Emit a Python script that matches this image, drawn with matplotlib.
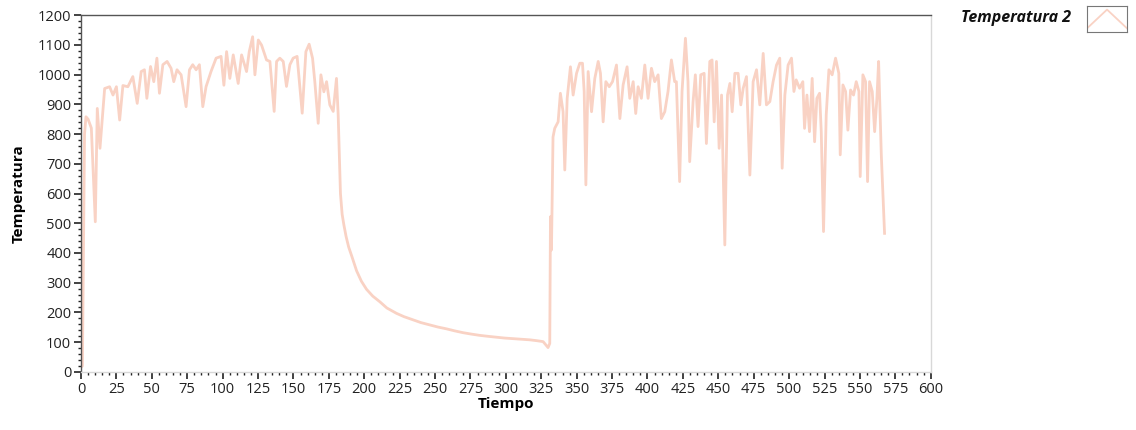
import matplotlib.pyplot as plt
from matplotlib.ticker import MultipleLocator

# Datos (Tiempo, Temperatura 2)
tiempo = [
    0, 1, 2.5, 3.5, 5, 7.3, 10.1, 11.5, 13.4, 16.7, 20.2, 22.6, 25, 27.3, 29.6, 33.1,
    36.6, 39.7, 42.5, 44.8, 46.5, 49.1, 51.4, 53.6, 55.4, 57.8, 60.8, 63.6, 65.5, 67.8,
    70.7, 74.2, 76.6, 78.9, 81.3, 83.6, 86, 88.3, 91.8, 95.4, 98.9, 100.9, 102.8, 105.1,
    107.5, 111, 113.4, 116.9, 118.8, 121.2, 122.8, 125.2, 127.5, 131, 133.4, 136.4, 138.1,
    140.4, 142.8, 145.1, 147.5, 149.8, 152.6, 156.2, 158.8, 161.1, 163.5, 165.1, 167.5,
    169.4, 171.5, 173.4, 175.7, 178.1, 180.4, 181.6, 183.2, 184.4, 185.6, 187.2, 189,
    191.5, 194.6, 198, 201.6, 206, 211, 216, 222.8, 228, 234.5, 240, 246.3, 252, 258,
    264, 269.8, 276, 281.6, 287, 293.4, 299, 305, 311, 316.9, 322, 326.3,
    329.8, 331, 331.5, 332.2, 333.3, 334.5, 336.9, 338.5, 340.4, 341.6, 343.3, 345.6,
    347.5, 349.9, 352.2, 354.1, 355.3, 356.5, 358.1, 360.5, 362.8, 365.2, 366.8, 368.7,
    370.6, 373, 375.3, 378.1, 380.5, 382.8, 385.6, 387.5, 389.9, 391.7, 393.4, 395.7,
    398.1, 400.4, 402.8, 405.1, 407.5, 409.8, 412.2, 414.5, 416.9, 419.2, 420.4, 422.7,
    424.4, 426.8, 428.6, 429.8, 432.2, 433.8, 435.7, 437.6, 440, 441.6, 444, 445.6,
    447.1, 448.7, 450.6, 452.3, 454.6, 456.5, 458.2, 459.8, 461.7, 464, 465.9, 467.6,
    469.9, 472.3, 474.6, 477, 479.3, 481.7, 484, 486.4, 488.7, 491.1, 493.4, 495.1, 497,
    499.3, 501.7, 503.4, 505, 507.4, 509.7, 510.9, 512.6, 514.4, 516.3, 518, 519.6,
    521.5, 522.7, 524.3, 526.2, 528.1, 530.4, 532.8, 535.1, 536.1, 538, 539.9, 541.5,
    543.4, 545.5, 547.4, 549.3, 550.2, 552.1, 554, 555.4, 556.8, 558.7, 560.4, 562,
    563.2, 565.1, 567.4,
]
temperatura = [
    15, 20, 800, 858, 850, 820, 505, 886, 752, 953, 959, 931, 959, 847, 963, 959,
    993, 903, 1010, 1016, 920, 1027, 976, 1055, 937, 1033, 1044, 1021, 976, 1016,
    999, 892, 1016, 1033, 1016, 1033, 892, 959, 1010, 1055, 1061, 964, 1077, 987,
    1066, 970, 1066, 1010, 1077, 1127, 999, 1116, 1099, 1049, 1044, 876, 1044,
    1055, 1044, 960, 1033, 1055, 1061, 870, 1077, 1102, 1055, 976, 836,
    999, 942, 976, 898, 876, 987, 864, 600, 530, 495, 455, 420,
    385, 340, 305, 278, 255, 236, 215, 197, 186, 175, 166, 158, 151, 145,
    138, 132, 127, 123, 120, 117, 114, 112, 110, 108, 105, 102,
    82, 96, 522, 410, 790, 819, 841, 937, 875, 679, 920, 1026,
    931, 1004, 1038, 1038, 943, 629, 1010, 875, 987, 1044, 1004, 841,
    976, 959, 976, 1032, 852, 965, 1026, 920, 976, 869, 959, 920,
    1032, 920, 1021, 976, 999, 852, 875, 943, 1049, 976, 976, 640,
    943, 1122, 976, 707, 909, 999, 825, 999, 1004, 768, 1044, 1049,
    841, 1044, 752, 931, 427, 931, 970, 875, 1004, 1004, 898, 954,
    993, 662, 976, 1016, 898, 1071, 898, 909, 976, 1032, 1055, 685, 931,
    1032, 1055, 943, 982, 954, 976, 819, 931, 808, 987, 774, 920,
    937, 808, 472, 864, 1016, 999, 1055, 1004, 730, 965, 943, 813,
    948, 931, 976, 943, 657, 999, 976, 640, 976, 943, 808, 920,
    1044, 730, 466,
]

color_linea = '#F9D2C4'
fuente = 'Open Sans'

fig = plt.figure(figsize=(11.36, 4.30), dpi=100)
ax = fig.add_axes([0.0713, 0.135, 0.748, 0.830])

ax.plot(tiempo, temperatura, color=color_linea, linewidth=2.0)

ax.set_xlim(0, 600)
ax.set_ylim(0, 1200)
ax.xaxis.set_major_locator(MultipleLocator(25))
ax.xaxis.set_minor_locator(MultipleLocator(5))
ax.yaxis.set_major_locator(MultipleLocator(100))
ax.yaxis.set_minor_locator(MultipleLocator(20))

ax.tick_params(axis='both', which='major', direction='out', length=5, width=1.2,
               color='#222222', labelsize=10.5, labelcolor='#222222', pad=2)
ax.tick_params(axis='both', which='minor', direction='out', length=2.5, width=1.0,
               color='#222222')
for lab in ax.get_xticklabels() + ax.get_yticklabels():
    lab.set_fontfamily(fuente)

ax.spines['top'].set_color('#555555')
ax.spines['left'].set_color('#555555')
ax.spines['right'].set_color('#d8d8d8')
ax.spines['bottom'].set_color('#d8d8d8')
for s in ax.spines.values():
    s.set_linewidth(1.0)

ax.set_xlabel('Tiempo', fontsize=11, fontweight='bold', family=fuente, labelpad=0)
ax.set_ylabel('Temperatura', fontsize=11, fontweight='bold', family=fuente, labelpad=9)

# Leyenda al estilo del panel original
fig.text(0.943, 0.957, 'Temperatura 2', ha='right', va='center', fontsize=11.5,
         fontweight='bold', fontstyle='italic', family=fuente, color='#111111')
ax_ley = fig.add_axes([0.957, 0.925, 0.035, 0.062])
ax_ley.plot([0, 0.5, 1], [0.15, 0.85, 0.15], color=color_linea, linewidth=1.3)
ax_ley.set_xlim(0, 1)
ax_ley.set_ylim(0, 1)
ax_ley.set_xticks([])
ax_ley.set_yticks([])
for s in ax_ley.spines.values():
    s.set_color('#777777')
    s.set_linewidth(0.8)

plt.savefig('out.png', dpi=100)
